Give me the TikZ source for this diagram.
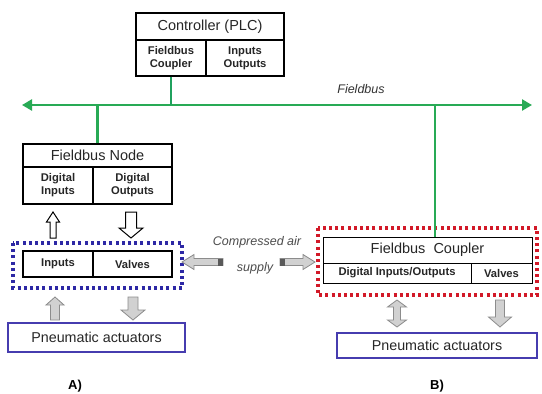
\documentclass[tikz,border=0pt]{standalone}
\usepackage{fontspec}
\setmainfont{Liberation Sans}
\usetikzlibrary{arrows.meta}
\definecolor{busgreen}{RGB}{40,170,85}
\definecolor{dotblue}{RGB}{45,40,165}
\definecolor{boxblue}{RGB}{70,60,175}
\definecolor{dotred}{RGB}{210,25,40}
\newcommand{\VArr}[7]{%
\pgfmathsetmacro\myd{(#4>#3)?1:-1}%
\pgfmathsetmacro\myhb{#4-\myd*#7}%
\draw[#1] ({#2-#5},#3) -- ({#2-#5},\myhb) -- ({#2-#6},\myhb) -- (#2,#4) -- ({#2+#6},\myhb) -- ({#2+#5},\myhb) -- ({#2+#5},#3) -- cycle;}
\newcommand{\HArr}[7]{%
\pgfmathsetmacro\myd{(#4>#3)?1:-1}%
\pgfmathsetmacro\myhb{#4-\myd*#7}%
\draw[#1] (#3,{#2-#5}) -- (\myhb,{#2-#5}) -- (\myhb,{#2-#6}) -- (#4,#2) -- (\myhb,{#2+#6}) -- (\myhb,{#2+#5}) -- (#3,{#2+#5}) -- cycle;}
\newcommand{\DVArr}[7]{%
\draw[#1] (#2,#3) -- ({#2+#6},{#3+#7}) -- ({#2+#5},{#3+#7}) -- ({#2+#5},{#4-#7}) -- ({#2+#6},{#4-#7}) -- (#2,#4) -- ({#2-#6},{#4-#7}) -- ({#2-#5},{#4-#7}) -- ({#2-#5},{#3+#7}) -- ({#2-#6},{#3+#7}) -- cycle;}
\begin{document}
\begin{tikzpicture}[x=1pt,y=-1pt,
  cell/.style={draw=black, line width=1.1pt, inner sep=0pt, text=black!85, align=center},
  title/.style={cell, font=\fontsize{14.5}{16}\selectfont},
  sub/.style={cell, font=\bfseries\fontsize{11.2}{13}\selectfont},
  pa/.style={draw=boxblue, line width=1.4pt, inner sep=0pt, text=black!85, font=\fontsize{14.3}{16}\selectfont},
  busline/.style={draw=busgreen, line width=2.6pt},
  drop/.style={draw=busgreen, line width=2.2pt},
  hollow/.style={fill=white, draw=black, line width=1pt},
  grayarr/.style={fill=black!18, draw=black!45, line width=0.8pt},
  dotbox/.style={line width=3.2pt, dash pattern=on 3pt off 3.2pt},
  lbl/.style={text=black!70, font=\itshape\fontsize{12.5}{14}\selectfont},
  ab/.style={font=\bfseries\fontsize{13}{15}\selectfont}]
\useasboundingbox[fill=white] (0,0) rectangle (542,394);

% Controller
\node[title, minimum width=148pt, minimum height=27pt] (ctl) at (210,26.5) {Controller (PLC)};
\node[sub, minimum width=70pt, minimum height=36pt] (ctlfc) at (171,58) {Fieldbus\\Coupler};
\node[sub, minimum width=78pt, minimum height=36pt] (ctlio) at (245,58) {Inputs\\Outputs};

% Bus
\coordinate (bL) at (22,105);
\coordinate (bR) at (532,105);
\draw[busline, {Triangle[length=10pt,width=11pt]}-{Triangle[length=10pt,width=11pt]}] (bL) -- (bR);
\node[lbl, text=black!80] (buslbl) at (361,89) {Fieldbus};
\draw[draw=busgreen!80!teal, line width=1.6pt] (ctlfc.south) -- (ctlfc.south |- bL);

% Fieldbus Node (A)
\node[title, minimum width=149pt, minimum height=23pt] (fn) at (97.5,155.5) {Fieldbus Node};
\node[sub, minimum width=70pt, minimum height=37pt] (fndi) at (58,185.5) {Digital\\Inputs};
\node[sub, minimum width=79pt, minimum height=37pt] (fndo) at (132.5,185.5) {Digital\\Outputs};
\draw[drop] (fn.north) -- (fn.north |- bL);

\VArr{hollow}{53}{238}{212}{3}{6.5}{10}
\VArr{hollow}{131}{212}{238}{5.5}{12}{10}

\draw[dotbox, draw=dotblue] (13,243) rectangle (182,288);
\node[sub, minimum width=70pt, minimum height=26pt] (ain) at (58,264) {Inputs};
\node[sub, minimum width=79pt, minimum height=26pt] (aval) at (132.5,264) {Valves};

\VArr{grayarr}{55}{320}{297}{4.5}{9}{8}
\VArr{grayarr}{133}{297}{320}{5}{12}{10}

\node[pa, minimum width=177pt, minimum height=29pt] (paA) at (96.5,337.5) {Pneumatic actuators};
\node[ab] (labA) at (75,386) {A)};

% Compressed air
\node[lbl] (ca1) at (257,242) {Compressed air};
\node[lbl] (ca2) at (255,268) {supply};
\HArr{grayarr}{262}{223}{182}{3.5}{7.5}{12}
\fill[black!65] (218,258.5) rectangle (223,265.5);
\HArr{grayarr}{262}{280}{315}{3.5}{7.5}{12}
\fill[black!65] (280,258.5) rectangle (285,265.5);

% Fieldbus Coupler (B)
\draw[dotbox, draw=dotred] (318,228) rectangle (537,295);
\node[title, minimum width=209pt, minimum height=26pt, line width=0.9pt] (fc) at (427.5,250) {Fieldbus\ \ Coupler};
\node[sub, minimum width=148pt, minimum height=20pt, line width=0.9pt] (fcdio) at (397,273) {Digital Inputs/Outputs};
\node[sub, minimum width=61pt, minimum height=20pt, line width=0.9pt] (fcval) at (501.5,273) {Valves};
\coordinate (fcdrop) at (435,237);
\draw[drop] (fcdrop) -- (fcdrop |- bR);

\DVArr{grayarr}{397}{300}{327}{3.5}{9.5}{7}
\VArr{grayarr}{500}{300}{327}{4.5}{11.5}{10}

\node[pa, minimum width=200pt, minimum height=25pt] (paB) at (437,345.5) {Pneumatic actuators};
\node[ab] (labB) at (437,386) {B)};
\end{tikzpicture}
\end{document}
